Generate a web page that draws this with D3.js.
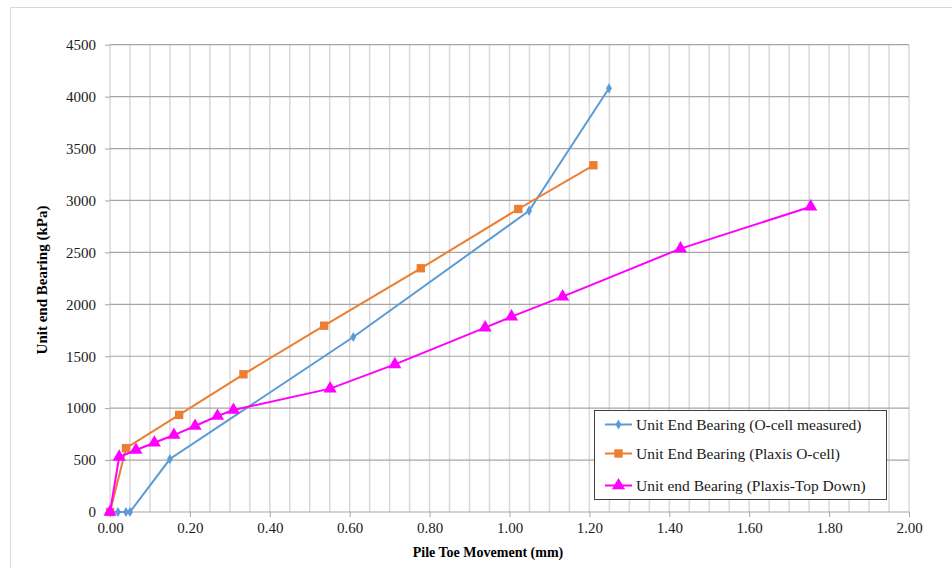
<!DOCTYPE html>
<html lang="en">
<head>
<meta charset="utf-8">
<title>Unit End Bearing</title>
<script src="https://d3js.org/d3.v7.min.js"></script>
<style>
  body { margin: 0; background: #fff; }
  .axis path { display: none; }
  .axis line { stroke: #a6a6a6; }
  .axis text { font-family: "Liberation Serif", "DejaVu Serif", serif; font-size: 15px; fill: #1a1a1a; }
  .title { font-family: "Liberation Serif", serif; font-weight: bold; fill: #000; }
  .legend text { font-family: "Liberation Serif", serif; font-size: 15.5px; fill: #1a1a1a; }
</style>
</head>
<body>
<script>
// data (movement in mm, bearing in kPa)
const ocellX = [0, 0.02, 0.04, 0.05, 0.15, 0.609, 1.049, 1.249];
const ocellY = [0, 0, 0, 0, 510, 1685, 2900, 4080];

const plaxisX = [0, 0.04, 0.173, 0.334, 0.536, 0.778, 1.022, 1.21];
const plaxisY = [0, 615, 935, 1326, 1794, 2347, 2918, 3339];

const topDownX = [0, 0.023, 0.065, 0.111, 0.160, 0.213, 0.269, 0.309, 0.551, 0.713, 0.939, 1.005, 1.133, 1.428, 1.754];
const topDownY = [0, 530, 597, 667, 741, 828, 924, 982, 1188, 1422, 1775, 1881, 2074, 2536, 2940];

const seriesNames = ["Unit End Bearing (O-cell measured)", "Unit End Bearing (Plaxis O-cell)", "Unit end Bearing (Plaxis-Top Down)"];
const xTicks = [0, 0.2, 0.4, 0.6, 0.8, 1.0, 1.2, 1.4, 1.6, 1.8, 2.0];
const yTicks = [0, 500, 1000, 1500, 2000, 2500, 3000, 3500, 4000, 4500];

const w = 952, h = 568;
const plotL = 110, plotR = 909, plotT = 44.7, plotB = 512;

const svg = d3.select("body").append("svg").attr("width", w).attr("height", h);

// outer chart frame
svg.append("rect").attr("x", 10.5).attr("y", 7.5).attr("width", 980).attr("height", 600)
   .attr("fill", "none").attr("stroke", "#d9d9d9");

const x = d3.scaleLinear().domain([0, 2]).range([plotL, plotR]);
const y = d3.scaleLinear().domain([0, 4500]).range([plotB, plotT]);

// vertical grid every 0.05
svg.append("g").selectAll("line").data(d3.range(0, 41).map(i => i * 0.05)).join("line")
   .attr("x1", d => x(d)).attr("x2", d => x(d))
   .attr("y1", plotT).attr("y2", plotB)
   .attr("stroke", "#d9d9d9").attr("stroke-width", 1.5);

// horizontal grid
svg.append("g").selectAll("line").data(yTicks).join("line")
   .attr("x1", plotL).attr("x2", plotR)
   .attr("y1", d => y(d)).attr("y2", d => y(d))
   .attr("stroke", "#a6a6a6").attr("stroke-width", 1.2);

// axes
svg.append("g").attr("class", "axis")
   .attr("transform", "translate(0," + plotB + ")")
   .call(d3.axisBottom(x).tickValues(xTicks).tickFormat(d3.format(".2f")).tickSize(5).tickPadding(5))
   .attr("font-family", "Liberation Serif").attr("font-size", 15);

svg.append("g").attr("class", "axis")
   .attr("transform", "translate(" + plotL + ",0)")
   .call(d3.axisLeft(y).tickValues(yTicks).tickFormat(d3.format("d")).tickSize(5).tickPadding(9))
   .attr("font-family", "Liberation Serif").attr("font-size", 15);

// axis titles
svg.append("text").attr("class", "title").attr("x", 488).attr("y", 557)
   .attr("font-size", 14).attr("text-anchor", "middle").text("Pile Toe Movement (mm)");
svg.append("text").attr("class", "title")
   .attr("font-size", 15)
   .attr("transform", "translate(47,280) rotate(-90)")
   .attr("text-anchor", "middle").text("Unit end Bearing (kPa)");

const series = [
  { xs: ocellX, ys: ocellY, color: "#5b9bd5", shape: d3.symbolDiamond, size: 30 },
  { xs: plaxisX, ys: plaxisY, color: "#ed7d31", shape: d3.symbolSquare, size: 70 },
  { xs: topDownX, ys: topDownY, color: "#ff00ff", shape: d3.symbolTriangle, size: 75 }
];

const line = d3.line().x(d => x(d[0])).y(d => y(d[1]));

series.forEach(s => {
  const pts = s.xs.map((v, i) => [v, s.ys[i]]);
  svg.append("path").datum(pts).attr("d", line)
     .attr("fill", "none").attr("stroke", s.color).attr("stroke-width", 2);
  svg.append("g").selectAll("path").data(pts).join("path")
     .attr("transform", d => "translate(" + x(d[0]) + "," + y(d[1]) + ")")
     .attr("d", d3.symbol(s.shape, s.size))
     .attr("fill", s.color);
});

// legend
const lg = svg.append("g").attr("class", "legend");
lg.append("rect").attr("x", 594.5).attr("y", 410.5).attr("width", 292).attr("height", 89)
  .attr("fill", "#fff").attr("stroke", "#404040");
const rowY = [424.5, 453.5, 485.5];
series.forEach((s, i) => {
  lg.append("line").attr("x1", 605).attr("x2", 632).attr("y1", rowY[i]).attr("y2", rowY[i])
    .attr("stroke", s.color).attr("stroke-width", 2);
  lg.append("path").attr("transform", "translate(618.5," + rowY[i] + ")")
    .attr("d", d3.symbol(s.shape, s.size)).attr("fill", s.color);
  lg.append("text").attr("x", 636).attr("y", rowY[i]).attr("dy", "0.35em").text(seriesNames[i]);
});
</script>
</body>
</html>
